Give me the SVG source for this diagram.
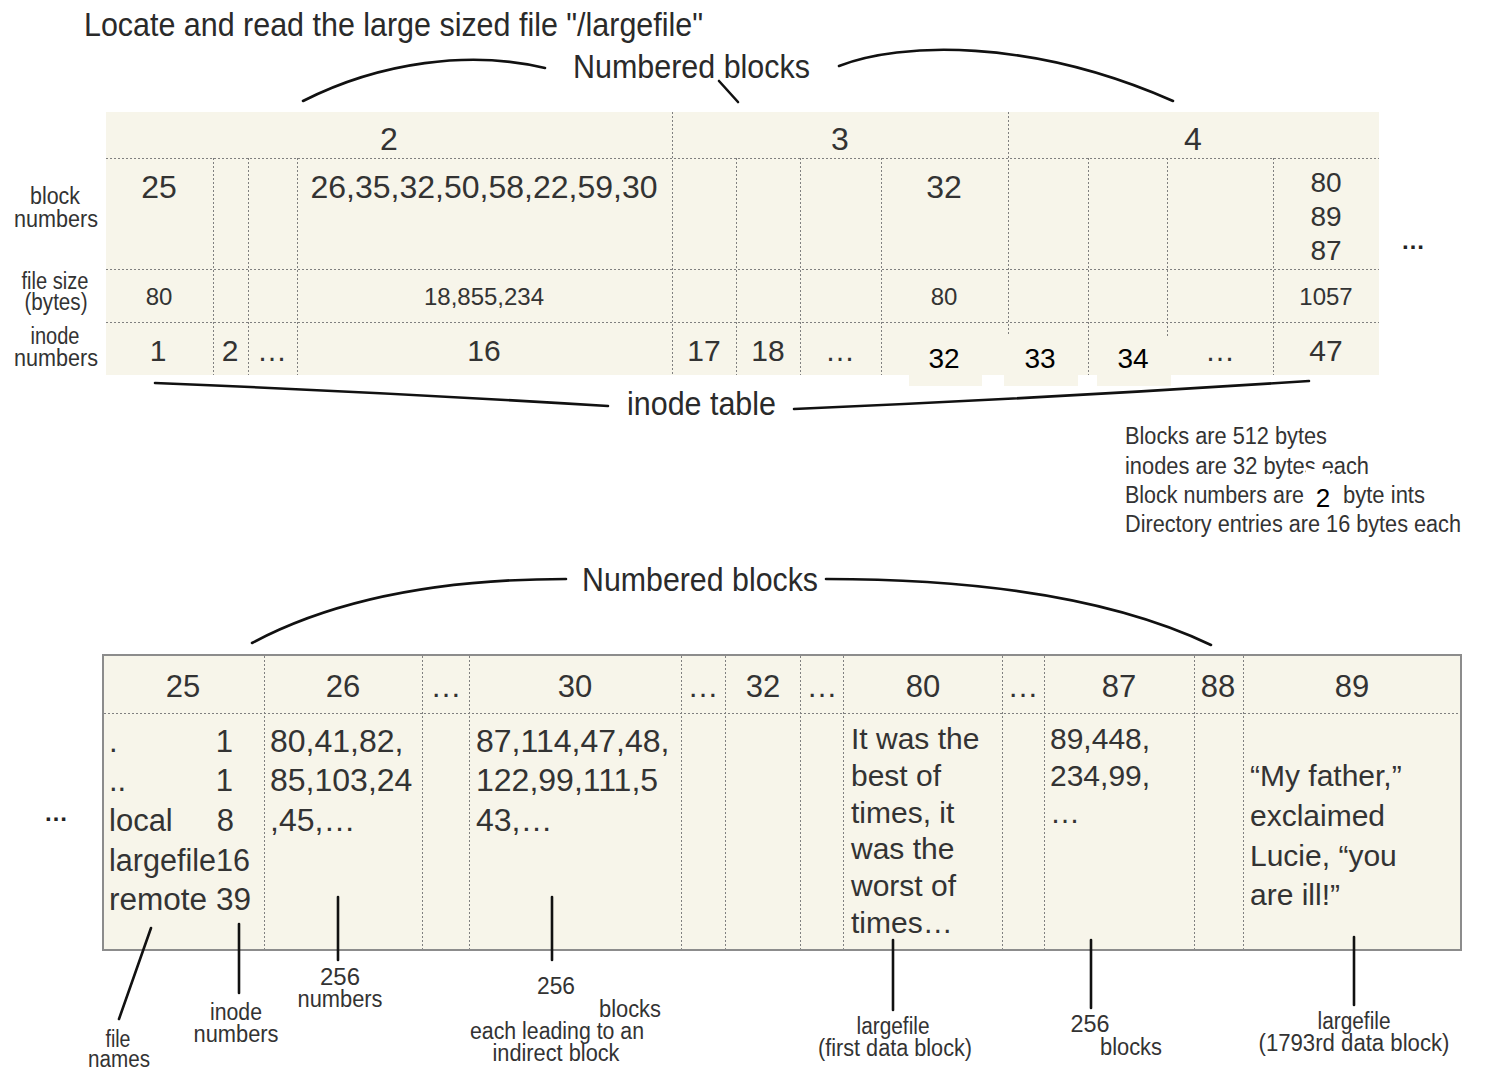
<svg xmlns="http://www.w3.org/2000/svg" width="1486" height="1071" viewBox="0 0 1486 1071">
  <style>
    text { font-family: "Liberation Sans", Arial, sans-serif; fill: #333; }
    .mid { text-anchor: middle; }
    .lbl { font-size: 23px; }
    .big { font-size: 33px; fill: #2a2a2a; }
    .ink { fill: #000; font-size: 28px; text-anchor: middle; }
    .dots { font-size: 24px; font-weight: bold; text-anchor: middle; fill: #222; }
    .paper { fill: #f7f5ea; }
    .grid { stroke: #808080; stroke-width: 1; stroke-dasharray: 2 2; fill: none; }
    .frame { fill: #f7f5ea; stroke: #8c8c8c; stroke-width: 2; }
    .conn { stroke: #111; stroke-width: 2.6; fill: none; stroke-linecap: round; }
    .h1 { font-size: 32px; }
    .h2 { font-size: 24px; }
    .h3 { font-size: 30px; }
    .b { font-size: 31px; }
  </style>

  <!-- heading -->
  <text id="title" x="84" y="36" class="big" textLength="619" lengthAdjust="spacingAndGlyphs">Locate and read the large sized file "/largefile"</text>

  <!-- ===== inode table (upper) ===== -->
  <g id="inode-table">
    <rect class="paper" x="106" y="112" width="1273" height="263"/>
    <g class="grid">
      <path d="M106,158.5H1379M106,269.5H1379M106,322.5H1379"/>
      <path d="M672.5,112V375M1008.5,112V375"/>
      <path d="M213.5,158V375M248.5,158V375M297.5,158V375M736.5,158V375M800.5,158V375M881.5,158V375M1088.5,158V375M1167.5,158V375M1273.5,158V375"/>
    </g>
    <!-- block headers -->
    <text class="h1 mid" x="389" y="150">2</text>
    <text class="h1 mid" x="840" y="150">3</text>
    <text class="h1 mid" x="1193" y="150">4</text>
    <!-- block numbers row -->
    <text class="h1 mid" x="159" y="198">25</text>
    <text class="h1 mid" x="484" y="198">26,35,32,50,58,22,59,30</text>
    <text class="h1 mid" x="944" y="198">32</text>
    <text class="mid" font-size="28" x="1326" y="192">80</text>
    <text class="mid" font-size="28" x="1326" y="226">89</text>
    <text class="mid" font-size="28" x="1326" y="260">87</text>
    <!-- file size row -->
    <text class="h2 mid" x="159" y="305">80</text>
    <text class="h2 mid" x="484" y="305">18,855,234</text>
    <text class="h2 mid" x="944" y="305">80</text>
    <text class="h2 mid" x="1326" y="305">1057</text>
    <!-- inode numbers row -->
    <text class="h3 mid" x="158" y="361">1</text>
    <text class="h3 mid" x="230" y="361">2</text>
    <text class="h3 mid" x="272" y="361">…</text>
    <text class="h3 mid" x="484" y="361">16</text>
    <text class="h3 mid" x="704" y="361">17</text>
    <text class="h3 mid" x="768" y="361">18</text>
    <text class="h3 mid" x="840" y="361">…</text>
    <text class="h3 mid" x="1220" y="361">…</text>
    <text class="h3 mid" x="1326" y="361">47</text>
    <!-- relabelled inode slots -->
    <rect class="paper" x="909" y="336" width="73" height="50"/>
    <rect class="paper" x="1004" y="336" width="74" height="50"/>
    <rect class="paper" x="1097" y="336" width="74" height="50"/>
    <text class="ink" x="944" y="368">32</text>
    <text class="ink" x="1040" y="368">33</text>
    <text class="ink" x="1133" y="368">34</text>
  </g>

  <g id="row-labels">
    <text class="lbl mid" x="55" y="204" textLength="50" lengthAdjust="spacingAndGlyphs">block</text>
    <text class="lbl mid" x="56" y="227" textLength="84" lengthAdjust="spacingAndGlyphs">numbers</text>
    <text class="lbl mid" x="55" y="289" textLength="67" lengthAdjust="spacingAndGlyphs">file size</text>
    <text class="lbl mid" x="56" y="310" textLength="63" lengthAdjust="spacingAndGlyphs">(bytes)</text>
    <text class="lbl mid" x="55" y="344" textLength="49" lengthAdjust="spacingAndGlyphs">inode</text>
    <text class="lbl mid" x="56" y="366" textLength="84" lengthAdjust="spacingAndGlyphs">numbers</text>
  </g>

  <text id="more-inodes" class="dots" x="1413" y="249">…</text>

  <g id="numbered-blocks-top">
    <text class="big" x="573" y="78" textLength="237" lengthAdjust="spacingAndGlyphs">Numbered blocks</text>
  </g>
  <g id="inode-table-label">
    <text class="big" x="627" y="415" textLength="149" lengthAdjust="spacingAndGlyphs">inode table</text>
  </g>

  <!-- sizes -->
  <g id="sizes">
    <text class="lbl" x="1125" y="444" textLength="202" lengthAdjust="spacingAndGlyphs">Blocks are 512 bytes</text>
    <text class="lbl" x="1125" y="474" textLength="244" lengthAdjust="spacingAndGlyphs">inodes are 32 bytes each</text>
    <text class="lbl" x="1125" y="503" textLength="179" lengthAdjust="spacingAndGlyphs">Block numbers are</text>
    <text class="lbl" x="1343" y="503" textLength="82" lengthAdjust="spacingAndGlyphs">byte ints</text>
    <text class="lbl" x="1125" y="532" textLength="336" lengthAdjust="spacingAndGlyphs">Directory entries are 16 bytes each</text>
    <rect x="1306" y="469" width="24" height="47" fill="#fff"/>
    <text class="ink" x="1323" y="507" style="font-size:26px">2</text>
  </g>

  <!-- ===== data blocks (lower) ===== -->
  <g id="numbered-blocks-bottom">
    <text class="big" x="582" y="591" textLength="236" lengthAdjust="spacingAndGlyphs">Numbered blocks</text>
  </g>

  <g id="data-blocks">
    <rect class="frame" x="103" y="655" width="1358" height="295"/>
    <g class="grid">
      <path d="M104,713.5H1460"/>
      <path d="M264.5,656V949M422.5,656V949M469.5,656V949M681.5,656V949M725.5,656V949M800.5,656V949M843.5,656V949M1002.5,656V949M1044.5,656V949M1194.5,656V949M1243.5,656V949"/>
    </g>
  </g>

  <g id="block-25">
    <text class="b mid" x="183" y="697">25</text>
    <text class="b" x="109" y="752">.</text>
    <text class="b" x="233" y="752" text-anchor="end">1</text>
    <text class="b" x="109" y="791">..</text>
    <text class="b" x="233" y="791" text-anchor="end">1</text>
    <text class="b" x="109" y="831">local</text>
    <text class="b" x="234" y="831" text-anchor="end">8</text>
    <text class="b" x="109" y="871" textLength="141" lengthAdjust="spacingAndGlyphs">largefile16</text>
    <text class="b" x="109" y="910" textLength="142" lengthAdjust="spacingAndGlyphs">remote 39</text>
  </g>
  <g id="block-26">
    <text class="b mid" x="343" y="697">26</text>
    <text class="h1" x="270" y="752">80,41,82,</text>
    <text class="h1" x="270" y="791">85,103,24</text>
    <text class="h1" x="270" y="831">,45,…</text>
  </g>
  <g id="gap-27"><text class="b mid" x="446" y="697">…</text></g>
  <g id="block-30">
    <text class="b mid" x="575" y="697">30</text>
    <text class="h1" x="476" y="752">87,114,47,48,</text>
    <text class="h1" x="476" y="791">122,99,111,5</text>
    <text class="h1" x="476" y="831">43,…</text>
  </g>
  <g id="gap-31"><text class="b mid" x="703" y="697">…</text></g>
  <g id="block-32"><text class="b mid" x="763" y="697">32</text></g>
  <g id="gap-33"><text class="b mid" x="822" y="697">…</text></g>
  <g id="block-80">
    <text class="b mid" x="923" y="697">80</text>
    <text class="h3" x="851" y="749">It was the</text>
    <text class="h3" x="851" y="786">best of</text>
    <text class="h3" x="851" y="823">times, it</text>
    <text class="h3" x="851" y="859">was the</text>
    <text class="h3" x="851" y="896">worst of</text>
    <text class="h3" x="851" y="933">times…</text>
  </g>
  <g id="gap-81"><text class="b mid" x="1023" y="697">…</text></g>
  <g id="block-87">
    <text class="b mid" x="1119" y="697">87</text>
    <text class="h3" x="1050" y="749">89,448,</text>
    <text class="h3" x="1050" y="786">234,99,</text>
    <text class="h3" x="1050" y="823">…</text>
  </g>
  <g id="block-88"><text class="b mid" x="1218" y="697">88</text></g>
  <g id="block-89">
    <text class="b mid" x="1352" y="697">89</text>
    <text class="h3" x="1250" y="786">“My father,”</text>
    <text class="h3" x="1250" y="826">exclaimed</text>
    <text class="h3" x="1250" y="866">Lucie, “you</text>
    <text class="h3" x="1250" y="905">are ill!”</text>
  </g>

  <text id="more-blocks" class="dots" x="56" y="821">…</text>

  <!-- captions under the data blocks -->
  <g id="captions">
    <text class="lbl mid" x="118" y="1047" textLength="25" lengthAdjust="spacingAndGlyphs">file</text>
    <text class="lbl mid" x="119" y="1067" textLength="62" lengthAdjust="spacingAndGlyphs">names</text>
    <text class="lbl mid" x="236" y="1020" textLength="52" lengthAdjust="spacingAndGlyphs">inode</text>
    <text class="lbl mid" x="236" y="1042" textLength="85" lengthAdjust="spacingAndGlyphs">numbers</text>
    <text class="lbl mid" x="340" y="985" textLength="40" lengthAdjust="spacingAndGlyphs">256</text>
    <text class="lbl mid" x="340" y="1007" textLength="85" lengthAdjust="spacingAndGlyphs">numbers</text>
    <text class="lbl mid" x="556" y="994" textLength="38" lengthAdjust="spacingAndGlyphs">256</text>
    <text class="lbl mid" x="630" y="1017" textLength="62" lengthAdjust="spacingAndGlyphs">blocks</text>
    <text class="lbl mid" x="557" y="1039" textLength="174" lengthAdjust="spacingAndGlyphs">each leading to an</text>
    <text class="lbl mid" x="556" y="1061" textLength="127" lengthAdjust="spacingAndGlyphs">indirect block</text>
    <text class="lbl mid" x="893" y="1034" textLength="73" lengthAdjust="spacingAndGlyphs">largefile</text>
    <text class="lbl mid" x="895" y="1056" textLength="154" lengthAdjust="spacingAndGlyphs">(first data block)</text>
    <text class="lbl mid" x="1090" y="1032" textLength="39" lengthAdjust="spacingAndGlyphs">256</text>
    <text class="lbl mid" x="1131" y="1055" textLength="62" lengthAdjust="spacingAndGlyphs">blocks</text>
    <text class="lbl mid" x="1354" y="1029" textLength="73" lengthAdjust="spacingAndGlyphs">largefile</text>
    <text class="lbl mid" x="1354" y="1051" textLength="191" lengthAdjust="spacingAndGlyphs">(1793rd data block)</text>
  </g>

  <!-- brackets and pointer strokes -->
  <g id="connectors" class="conn">
    <path d="M303,101 C380,62 470,50 545,68"/>
    <path d="M839,66 C900,42 1030,38 1173,101"/>
    <path d="M719,81 L738,102"/>
    <path d="M155,383 Q380,392 608,406"/>
    <path d="M794,409 Q1050,398 1309,381"/>
    <path d="M252,643 C340,596 450,579 566,579"/>
    <path d="M826,579 C950,579 1100,592 1211,645"/>
    <path d="M151,928 L119,1019"/>
    <path d="M239,924 V993"/>
    <path d="M338,897 V960"/>
    <path d="M552,897 V960"/>
    <path d="M893,940 V1010"/>
    <path d="M1091,940 V1008"/>
    <path d="M1354,937 V1005"/>
  </g>
</svg>
